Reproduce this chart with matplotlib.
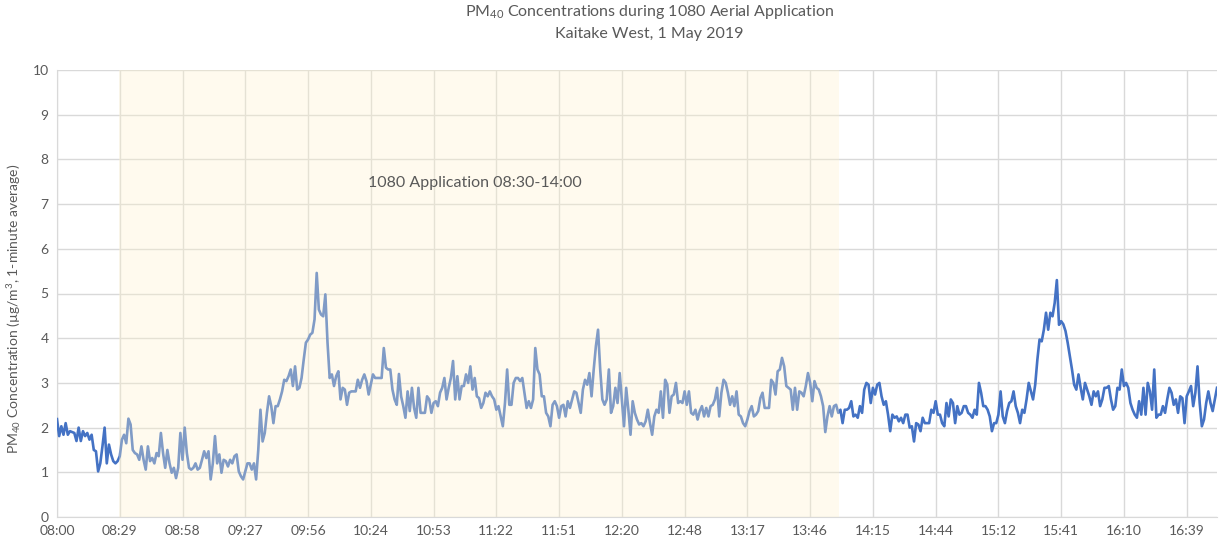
import matplotlib
matplotlib.use("Agg")
import matplotlib.pyplot as plt
import numpy as np

# PM40 one-minute averages, 08:00 onwards (one value per logged minute)
pm40 = [
    2.19, 1.81, 2.03, 1.84, 2.10, 1.84, 1.92, 1.90, 1.88, 1.70,
    2.00, 1.70, 1.92, 1.81, 1.88, 1.73, 1.84, 1.50, 1.47, 1.02,
    1.20, 1.58, 2.00, 1.20, 1.62, 1.40, 1.25, 1.20, 1.25, 1.36,
    1.73, 1.84, 1.65, 2.20, 2.07, 1.50, 1.43, 1.40, 1.28, 1.58,
    1.28, 1.06, 1.58, 1.25, 1.32, 1.20, 1.43, 1.36, 1.88, 1.43,
    1.10, 1.50, 1.20, 0.99, 1.10, 0.87, 1.10, 1.88, 1.28, 2.00,
    1.43, 1.10, 1.06, 1.10, 1.20, 1.06, 1.10, 1.28, 1.47, 1.32,
    1.47, 0.84, 1.20, 1.81, 1.20, 1.40, 0.99, 1.28, 1.25, 1.13,
    1.28, 1.20, 1.36, 1.40, 1.02, 0.91, 0.84, 1.02, 1.20, 1.20,
    1.06, 1.20, 0.84, 1.50, 2.40, 1.69, 1.88, 2.33, 2.70, 2.48,
    2.10, 2.48, 2.48, 2.63, 2.81, 3.07, 3.04, 3.15, 3.30, 2.93,
    3.37, 2.85, 2.89, 3.11, 3.52, 3.90, 3.97, 4.08, 4.12, 4.42,
    5.46, 4.64, 4.53, 4.49, 4.98, 3.90, 3.11, 3.19, 2.93, 3.15,
    3.26, 2.63, 2.89, 2.85, 2.51, 2.78, 2.81, 2.81, 2.81, 3.07,
    2.89, 3.07, 3.19, 3.04, 2.74, 2.96, 3.19, 3.11, 3.11, 3.11,
    3.11, 3.78, 3.34, 3.30, 3.30, 2.85, 2.63, 2.51, 3.20, 2.70,
    2.48, 2.22, 2.81, 2.37, 2.89, 2.44, 2.22, 2.89, 2.33, 2.33,
    2.33, 2.70, 2.63, 2.33, 2.55, 2.59, 2.48, 2.78, 2.89, 3.11,
    2.63, 2.89, 3.11, 3.49, 2.63, 3.15, 2.63, 2.93, 2.93, 3.19,
    3.00, 3.37, 2.85, 3.11, 2.70, 2.66, 2.44, 2.55, 2.78, 2.70,
    2.81, 2.70, 2.63, 2.40, 2.48, 2.25, 2.03, 2.55, 3.30, 2.51,
    2.51, 3.00, 3.11, 3.11, 3.04, 3.11, 2.78, 2.44, 2.59, 2.44,
    2.63, 3.78, 3.30, 3.19, 2.70, 2.70, 2.33, 2.25, 2.03, 2.51,
    2.59, 2.48, 2.22, 2.48, 2.51, 2.25, 2.59, 2.44, 2.63, 2.81,
    2.78, 2.55, 2.33, 2.85, 3.07, 2.96, 3.22, 2.70, 3.30, 3.82,
    4.19, 3.30, 2.63, 2.51, 2.63, 3.30, 2.33, 2.48, 2.89, 2.55,
    3.22, 2.63, 2.03, 2.89, 2.40, 1.84, 2.59, 2.33, 2.18, 2.07,
    2.10, 2.03, 2.14, 2.40, 2.10, 1.84, 2.25, 2.40, 2.33, 2.81,
    2.22, 3.07, 2.96, 2.33, 2.70, 2.74, 3.00, 2.55, 2.59, 2.55,
    2.81, 2.51, 2.81, 2.33, 2.29, 2.40, 2.18, 2.37, 2.48, 2.25,
    2.44, 2.25, 2.48, 2.51, 2.63, 2.89, 2.25, 2.78, 3.07, 3.00,
    2.78, 2.51, 2.70, 2.48, 2.81, 2.29, 2.25, 2.10, 2.03, 2.18,
    2.37, 2.48, 2.25, 2.29, 2.37, 2.66, 2.78, 2.44, 2.44, 2.44,
    3.07, 3.00, 2.74, 3.26, 3.30, 3.56, 3.37, 2.93, 2.89, 2.85,
    2.40, 2.89, 2.40, 2.81, 2.78, 2.70, 2.93, 3.22, 3.00, 2.59,
    3.04, 2.89, 2.85, 2.70, 2.48, 1.90, 2.25, 2.48, 2.25, 2.48,
    2.51, 2.33, 2.40, 2.10, 2.40, 2.40, 2.44, 2.59, 2.25, 2.29,
    2.22, 2.48, 2.33, 2.85, 3.00, 2.96, 2.55, 2.89, 2.74, 2.96,
    3.00, 2.70, 2.51, 2.59, 2.29, 1.92, 2.29, 2.22, 2.25, 2.14,
    2.22, 2.10, 2.29, 2.29, 2.00, 2.03, 1.69, 2.10, 2.07, 1.92,
    2.22, 2.10, 2.10, 2.10, 2.40, 2.33, 2.59, 2.29, 2.29, 2.10,
    2.03, 2.55, 2.25, 2.63, 2.55, 2.10, 2.48, 2.29, 2.33, 2.48,
    2.48, 2.33, 2.29, 2.22, 2.40, 2.29, 3.00, 2.78, 2.48, 2.48,
    2.40, 2.25, 1.92, 2.10, 2.10, 2.29, 2.81, 2.25, 2.10, 2.37,
    2.55, 2.59, 2.81, 2.48, 2.33, 2.10, 2.40, 2.33, 2.63, 3.00,
    2.81, 2.63, 2.96, 3.52, 3.97, 3.93, 4.19, 4.57, 4.19, 4.57,
    4.49, 4.79, 5.30, 4.30, 4.38, 4.31, 4.16, 3.90, 3.60, 3.30,
    2.96, 2.85, 3.19, 2.89, 2.63, 3.00, 2.85, 2.70, 2.51, 2.81,
    2.70, 2.81, 2.48, 2.63, 2.89, 2.89, 2.93, 2.63, 2.40, 2.48,
    2.89, 2.85, 3.30, 2.93, 3.00, 2.89, 2.55, 2.40, 2.29, 2.22,
    2.59, 2.29, 2.89, 2.29, 3.00, 2.81, 2.40, 3.30, 2.22, 2.29,
    2.29, 2.48, 2.33, 2.63, 2.89, 2.78, 2.51, 2.63, 2.33, 2.70,
    2.66, 2.10, 2.70, 2.81, 2.93, 2.48, 2.78, 3.37, 2.55, 2.03,
    2.18, 2.55, 2.81, 2.55, 2.37, 2.63, 2.89,
]

tick_labels = ["08:00", "08:29", "08:58", "09:27", "09:56", "10:24", "10:53",
               "11:22", "11:51", "12:20", "12:48", "13:17", "13:46", "14:15",
               "14:44", "15:12", "15:41", "16:10", "16:39"]

title_text = "PM$_{40}$ Concentrations during 1080 Aerial Application\nKaitake West, 1 May 2019"
ylabel_text = "PM$_{40}$ Concentration (\u00b5g/m$^3$, 1-minute average)"
annotation_text = "1080 Application 08:30-14:00"

plt.rcParams['font.family'] = ['Lato', 'DejaVu Sans']
plt.rcParams['mathtext.fontset'] = 'custom'
plt.rcParams['mathtext.rm'] = 'Lato'
plt.rcParams['mathtext.it'] = 'Lato'
plt.rcParams['mathtext.default'] = 'regular'

grey_text = '#595959'
grid_col = '#D9D9D9'

fig = plt.figure(figsize=(12.25, 5.5), dpi=100)
ax = fig.add_axes([57 / 1225, 1 - 517 / 550, (1217 - 57) / 1225, (517 - 70) / 550])

x = np.arange(len(pm40))
ax.plot(x, pm40, color='#4472C4', lw=1.9, zorder=3, solid_joinstyle='round')

# semi-transparent highlight over the application period
ax.axvspan(28.7, 361.3, color='#FFF2CC', alpha=0.32, lw=0, zorder=4)

ax.set_xlim(0, len(pm40) - 1)
ax.set_ylim(0, 10)
ax.set_yticks(np.arange(0, 11, 1))
ticks = np.arange(len(tick_labels)) * 29
ax.set_xticks(ticks)
ax.set_xticklabels(tick_labels)

ax.grid(True, color=grid_col, lw=1.0, zorder=1)
ax.set_axisbelow(True)
for s in ['top', 'right']:
    ax.spines[s].set_visible(False)
ax.spines['left'].set_color(grid_col)
ax.spines['bottom'].set_color(grid_col)
ax.tick_params(axis='both', length=0, colors=grey_text, labelsize=10, pad=6)

ax.text(193, 7.47, annotation_text, ha='center', va='center', fontsize=11.5,
        color=grey_text, zorder=5)

fig.text(0.530, 0.995, title_text, ha='center', va='top', fontsize=11.5,
         color=grey_text, linespacing=1.55)
ax.set_ylabel(ylabel_text, fontsize=10, color=grey_text)
ax.yaxis.set_label_coords(-0.029, 0.465)

fig.savefig('out.png', dpi=100)
